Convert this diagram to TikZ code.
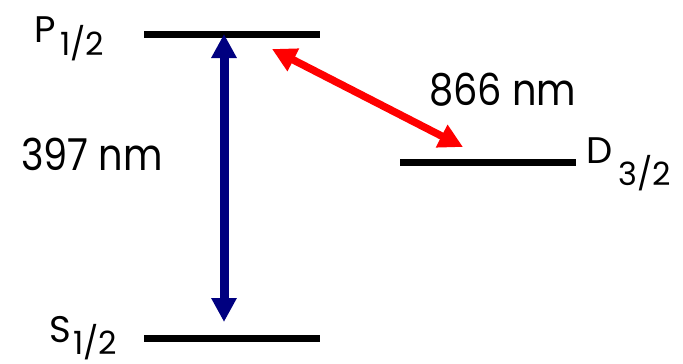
\documentclass[tikz,border=0pt]{standalone}
\usepackage{fontspec}
\setmainfont{Poppins}
\usetikzlibrary{arrows.meta}
\definecolor{navyblue}{RGB}{0,0,128}
\definecolor{laserred}{RGB}{255,0,0}
\begin{document}
\begin{tikzpicture}[x=1pt,y=-1pt,
  level/.style={line width=7pt,black},
  lbl/.style={anchor=base west,inner sep=0pt,font=\fontsize{37}{40}\selectfont},
  sub/.style={anchor=base west,inner sep=0pt,text depth=3pt,font=\fontsize{32}{36}\selectfont},
  wl/.style={anchor=base west,inner sep=0pt,font=\fontsize{44}{50}\selectfont},
  trans/.style={line width=#1,{Triangle[length=24pt,width=24pt]}-{Triangle[length=24pt,width=24pt]}},
]
\useasboundingbox (0,0) rectangle (683,364);
% level end points
\coordinate (Pl) at (144,34);
\coordinate (Pr) at (320,34);
\coordinate (Sl) at (144,338);
\coordinate (Sr) at (320,338);
\coordinate (Dl) at (400,162);
\coordinate (Dr) at (576,162);
\draw[level] (Pl) -- (Pr);
\draw[level] (Sl) -- (Sr);
\draw[level] (Dl) -- (Dr);
% labels
\node[lbl] (P) at (34,42) {P};
\node[sub] (Psub) at (60,55) {1/2};
\node[lbl] (S) at (49,342) {S};
\node[sub] (Ssub) at (73,354) {1/2};
\node[lbl] (D) at (586,163) {D};
\node[sub] (Dsub) at (618,185) {3/2};
\node[wl] (w397) at (21,170) {\scalebox{0.87}[1]{397 nm}};
\node[wl] (w866) at (429,105) {\scalebox{0.87}[1]{866 nm}};
% transition end points
\coordinate (Bt) at (224,34);
\coordinate (Bb) at (224,322);
\coordinate (Rt) at (272,49);
\coordinate (Rb) at (463,147);
\draw[trans=9pt,navyblue] (Bt) -- (Bb);
\draw[trans=7.5pt,laserred] (Rt) -- (Rb);
\end{tikzpicture}
\end{document}
